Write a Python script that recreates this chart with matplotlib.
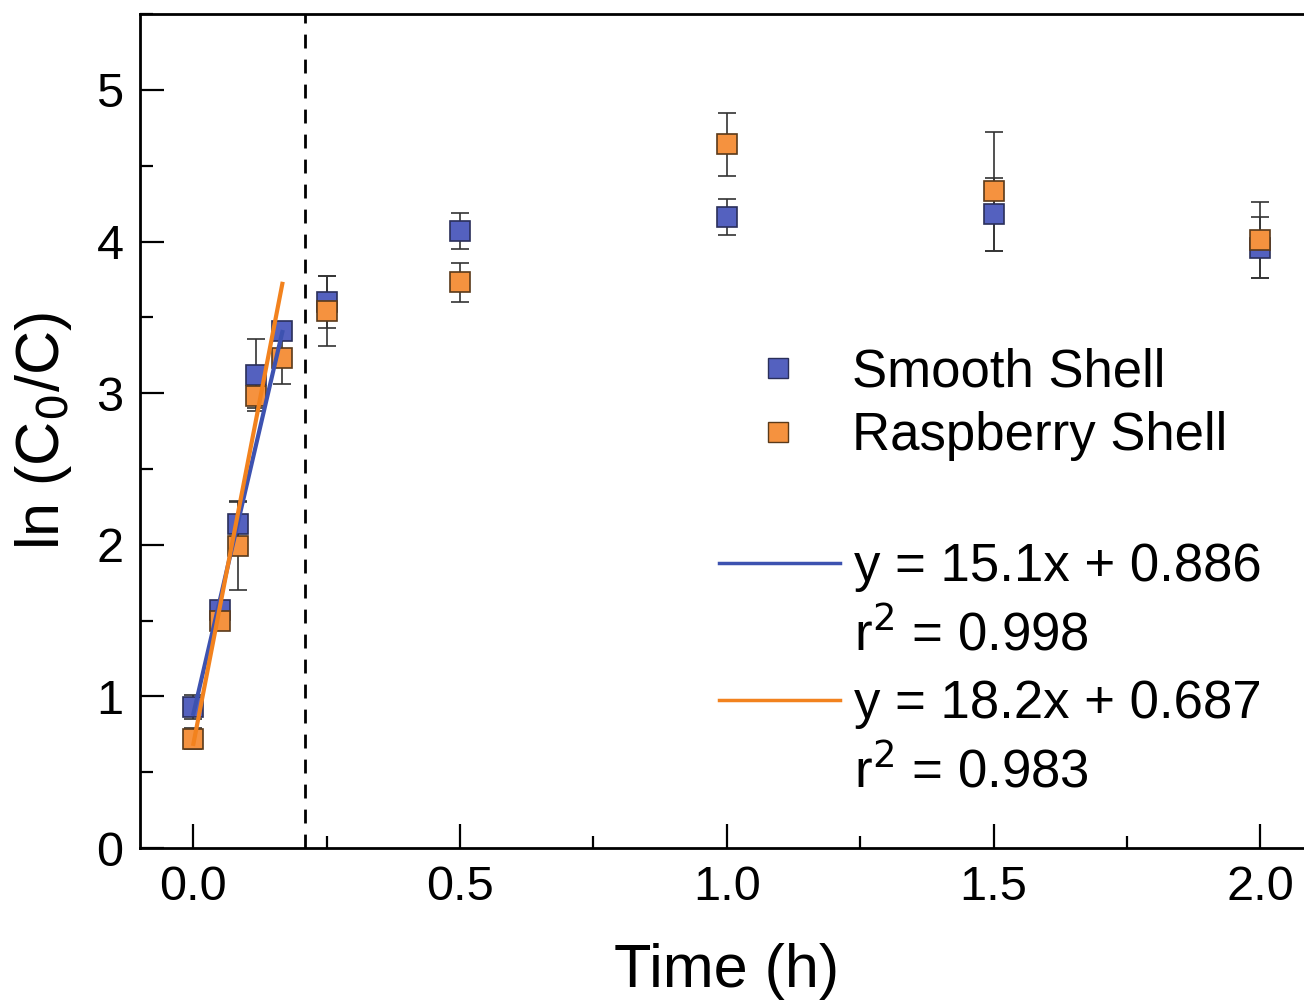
import numpy as np
import matplotlib
matplotlib.use("Agg")
import matplotlib.pyplot as plt
from matplotlib.lines import Line2D
from matplotlib.ticker import MultipleLocator

plt.rcParams['font.family'] = ['Liberation Sans', 'DejaVu Sans']

# data (time in h)
time = [0.0, 0.05, 0.0833, 0.1167, 0.1667, 0.25, 0.5, 1.0, 1.5, 2.0]
smooth = [0.93, 1.57, 2.14, 3.12, 3.41, 3.60, 4.07, 4.16, 4.18, 3.96]
smooth_err = [0.08, 0.05, 0.15, 0.24, 0.05, 0.17, 0.12, 0.12, 0.24, 0.20]
rasp = [0.72, 1.50, 1.99, 2.98, 3.23, 3.54, 3.73, 4.64, 4.33, 4.01]
rasp_err = [0.07, 0.05, 0.29, 0.08, 0.17, 0.23, 0.13, 0.21, 0.39, 0.25]

fit_x = [0.0, 0.1667]
smooth_fit = (15.1, 0.886, 0.998)
rasp_fit = (18.2, 0.687, 0.983)
cutoff = 0.21

blue = '#5461bf'
orange = '#f5923f'
blue_line = '#3d52b0'
orange_line = '#f2821e'

fig = plt.figure(figsize=(13.04, 10.06), dpi=100)
ax = fig.add_axes([0.1074, 0.157, 0.9, 0.829])

ax.errorbar(time, smooth, yerr=smooth_err, fmt='s', color=blue, mec='#2a2f5a',
            mew=1.2, ms=14, ecolor='#333333', elinewidth=1.2, capsize=6.5, zorder=3)
ax.errorbar(time, rasp, yerr=rasp_err, fmt='s', color=orange, mec='#5a3a1a',
            mew=1.2, ms=14, ecolor='#333333', elinewidth=1.2, capsize=6.5, zorder=3)

fx = np.array(fit_x)
ax.plot(fx, smooth_fit[0] * fx + smooth_fit[1], color=blue_line, lw=3, zorder=4)
ax.plot(fx, rasp_fit[0] * fx + rasp_fit[1], color=orange_line, lw=3, zorder=4)

ax.axvline(cutoff, color='black', ls=(0, (5, 4)), lw=2, zorder=2)

ax.set_xlim(-0.1, 2.1)
ax.set_ylim(0, 5.5)
ax.xaxis.set_major_locator(MultipleLocator(0.5))
ax.xaxis.set_minor_locator(MultipleLocator(0.25))
ax.yaxis.set_major_locator(MultipleLocator(1))
ax.yaxis.set_minor_locator(MultipleLocator(0.5))
ax.xaxis.set_major_formatter(matplotlib.ticker.FormatStrFormatter('%.1f'))
ax.tick_params(which='both', direction='in', labelsize=35, width=1.6)
ax.tick_params(which='major', length=17, pad=12)
ax.tick_params(which='minor', length=9)
for s in ax.spines.values():
    s.set_linewidth(2)

ax.set_xlabel('Time (h)', fontsize=44, labelpad=24)
ax.set_ylabel('ln (C$_0$/C)', fontsize=44, labelpad=16)

h1 = [Line2D([], [], ls='none', marker='s', ms=14, color=blue, mec='#2a2f5a'),
      Line2D([], [], ls='none', marker='s', ms=14, color=orange, mec='#5a3a1a')]
leg1 = ax.legend(h1, ['Smooth Shell', 'Raspberry Shell'], loc='center left',
                 bbox_to_anchor=(0.499, 0.532), frameon=False, fontsize=38,
                 handlelength=2.0, handletextpad=0.4, labelspacing=0.25,
                 borderpad=0, borderaxespad=0)
ax.add_artist(leg1)

blank = Line2D([], [], ls='none')
h2 = [Line2D([], [], color=blue_line, lw=2.5), blank,
      Line2D([], [], color=orange_line, lw=2.5), blank]
labels2 = ['y = %.1fx + %.3f' % smooth_fit[:2], 'r$^2$ = %.3f' % smooth_fit[2],
           'y = %.1fx + %.3f' % rasp_fit[:2], 'r$^2$ = %.3f' % rasp_fit[2]]
ax.legend(h2, labels2, loc='center left', bbox_to_anchor=(0.493, 0.213),
          frameon=False, fontsize=38, handlelength=2.3, handletextpad=0.27,
          labelspacing=0.33, borderpad=0, borderaxespad=0)

fig.savefig('out.png', dpi=100)
